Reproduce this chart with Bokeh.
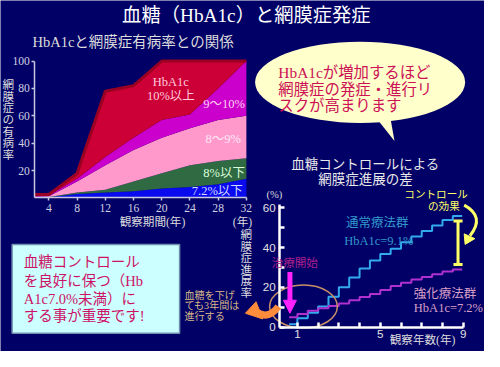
from bokeh.plotting import figure
from bokeh.models import Range1d, LinearAxis, FixedTicker, Label, Arrow, NormalHead, ColumnDataSource
from bokeh.embed import file_html
from bokeh.resources import INLINE

# ---------------- data: left chart (cumulative prevalence, %) ----------------
obs_years = [2, 4, 8, 12, 16, 20, 24, 28, 32]
cum_72 = [0.0, 0.5, 3, 4, 5, 7, 8, 10, 14]          # 7.2%以下
cum_8 = [0.0, 0.8, 4, 6, 12, 18, 24, 27, 29]        # 8%以下
cum_89 = [1.0, 1.3, 12, 24, 35, 44, 51, 57, 60]     # 8～9%
cum_910 = [2.0, 2.0, 14, 30, 44, 57, 61, 80, 100]   # 9～10%
cum_10 = [2.5, 2.5, 18, 78, 82, 100, 100, 100, 100] # 10%以上
left_xticks = [4, 8, 12, 16, 20, 24, 28, 32]
left_yticks = [20, 40, 60, 80, 100]

# ---------------- data: right chart (progression, %) ----------------
step_years = [0.6, 1.0, 1.5, 2.0, 2.5, 3.0, 3.5, 4.0, 4.5, 5.0, 5.5, 6.0, 6.5, 7.0, 7.5, 8.0, 8.5, 8.95]
conventional = [1.5, 4.5, 7.2, 10.4, 15.2, 20.0, 25.0, 29.5, 33.5, 36.7, 39.4, 42.6, 45.5, 48.3, 51.1, 53.8, 55.9, 55.9]
intensive = [5.0, 6.6, 8.2, 9.5, 10.6, 11.9, 13.5, 15.1, 16.7, 18.6, 20.7, 22.3, 23.9, 25.2, 26.6, 27.9, 29.0, 29.0]
right_xticks = [1, 5, 9]
right_xminor = [2, 3, 4, 6, 7, 8]
right_yticks = [0, 20, 40, 60]
right_yminor = [10, 30, 50]

# ---------------- figure ----------------
BG = "#000066"
W, H = 484, 351
SC = 0.965
JP = "Liberation Serif, Noto Sans CJK JP"
SERIF = "Liberation Serif"
SANS = "Liberation Sans"


def fs(n):
    return f"{n * SC:.1f}px"


p = figure(width=W, height=H, x_range=Range1d(0, 500), y_range=Range1d(367, 0),
           x_axis_type=None, y_axis_type=None, output_backend="svg", toolbar_location=None,
           min_border=0, background_fill_color=BG, border_fill_color=BG, outline_line_color=None)


def span_range(v0, px0, v1, px1, px_lo, px_hi):
    k = (px1 - px0) / (v1 - v0)
    return Range1d(v0 + (px_lo - px0) / k, v0 + (px_hi - px0) / k)


p.extra_x_ranges = {"lx": span_range(4, 50, 32, 254, 0, 500),
                    "rx": span_range(1, 306.7, 9, 478, 0, 500)}
p.extra_y_ranges = {"ly": span_range(0, 206.5, 100, 63.3, 367, 0),
                    "ry": span_range(0, 341.5, 60, 216.7, 367, 0)}
L = dict(x_range_name="lx", y_range_name="ly")
R = dict(x_range_name="rx", y_range_name="ry")

# ---- decorative shapes (design coordinates) ----
p.ellipse(x=[371.5], y=[85.5], width=[217], height=[85], fill_color="#ffffcc", line_color=None)
p.patch([389, 407, 403], [124, 147, 124], fill_color="#ffffcc", line_color=None)
p.quad(left=[12], right=[185], top=[255], bottom=[348], fill_color="#ccffff",
       line_color="#7090b0", line_width=1.5)

# ---- left chart stacked areas ----
src = ColumnDataSource(dict(x=obs_years, zero=[0] * len(obs_years), c72=cum_72, c8=cum_8,
                            c89=cum_89, c910=cum_910, c10=cum_10))
for lo, hi, col in [("zero", "c72", "#0a0aee"), ("c72", "c8", "#2f6a42"), ("c8", "c89", "#ff99cc"),
                    ("c89", "c910", "#cc00cc"), ("c910", "c10", "#cc0036")]:
    p.varea(x="x", y1=lo, y2=hi, source=src, fill_color=col, **L)
p.line("x", "c10", source=src, line_color="#990022", line_width=3, **L)


def style_axis(ax, color, width, tin, tout, lab_color, font, size, standoff):
    ax.axis_line_color = color
    ax.axis_line_width = width
    ax.major_tick_line_color = color
    ax.major_tick_line_width = width
    ax.major_tick_in = tin
    ax.major_tick_out = tout
    ax.minor_tick_line_color = color
    ax.minor_tick_line_width = width
    ax.minor_tick_in = tin
    ax.minor_tick_out = tout
    ax.major_label_text_color = lab_color
    ax.major_label_text_font = font
    ax.major_label_text_font_size = fs(size)
    ax.major_label_standoff = standoff


ax = LinearAxis(fixed_location=2, bounds=(0, 100), ticker=FixedTicker(ticks=left_yticks), **L)
style_axis(ax, "#c8c8e0", 1.5, 0, 3, "#d0d0e0", SERIF, 12, 2)
p.add_layout(ax, "left")
ax = LinearAxis(fixed_location=0, bounds=(2, 32), ticker=FixedTicker(ticks=left_xticks), **L)
style_axis(ax, "#c8c8e0", 1.5, 0, 3, "#d0d0e0", SERIF, 12, 3)
p.add_layout(ax, "below")

# ---- right chart ----
ssrc = ColumnDataSource(dict(x=step_years, conv=conventional, inten=intensive))
p.step("x", "conv", source=ssrc, mode="after", line_color="#33aaee", line_width=2, **R)
p.step("x", "inten", source=ssrc, mode="after", line_color="#b030d0", line_width=2, **R)

gx = step_years[-2] + 0.25
g_lo = intensive[-1] + 2.5
g_hi = conventional[-1] - 2.5
p.segment(x0=[gx, gx - 0.22, gx - 0.22], y0=[g_lo, g_lo, g_hi],
          x1=[gx, gx + 0.22, gx + 0.22], y1=[g_hi, g_lo, g_hi],
          line_color="#ffff66", line_width=3, **R)

ax = LinearAxis(fixed_location=0.15, bounds=(0, 61.5),
                ticker=FixedTicker(ticks=right_yticks, minor_ticks=right_yminor), **R)
style_axis(ax, "#ffffff", 2.5, 5, 0, "#e0e0e0", SANS, 12, 4)
p.add_layout(ax, "left")
ax = LinearAxis(fixed_location=0, bounds=(0.15, 9),
                ticker=FixedTicker(ticks=right_xticks, minor_ticks=right_xminor), **R)
style_axis(ax, "#ffffff", 2.5, 5, 0, "#e0e0e0", SANS, 12, 3)
p.add_layout(ax, "below")

# ellipse around the first years
p.ellipse(x=[313], y=[320], width=[70], height=[45], fill_color=None,
          line_color="#c89068", line_width=1.5)

# magenta "treatment start" arrow
p.add_layout(Arrow(x_start=299, y_start=284, x_end=299, y_end=327, line_color="#ff22ff", line_width=5,
                   end=NormalHead(size=13, fill_color="#ff22ff", line_color="#ff22ff")))

# yellow curved arrow
p.quadratic(x0=[479], y0=[214], x1=[485], y1=[246], cx=[501], cy=[226], line_color="#ffff66", line_width=3)
p.patch([480, 479, 490], [255, 244, 249], fill_color="#ffff66", line_color="#ffff66")

# ---- texts ----
def lab(x, y, text, size, color, align="left", font=JP, baseline="middle"):
    p.add_layout(Label(x=x, y=y, text=text, text_font_size=fs(size), text_color=color,
                       text_align=align, text_baseline=baseline, text_font=font))


lab(254, 16, "血糖（HbA1c）と網膜症発症", 20, "#ffffff", "center")
lab(33, 43, "HbA1cと網膜症有病率との関係", 15, "#dcdcdc")

for i, ch in enumerate("網膜症の有病率"):
    lab(8, 89 + i * 12.2, ch, 12, "#dddddd", "center")
lab(157, 232, "観察期間(年)", 12, "#dddddd", "center")
lab(250, 232, "(年)", 12, "#dddddd", "center")

lab(176, 85, "HbA1c", 13, "#ffccdd", "center")
lab(176, 100, "10%以上", 13, "#ffccdd", "center")
lab(231, 108, "9～10%", 13, "#ffd0f0", "center")
lab(230, 145, "8～9%", 13, "#ffe8f4", "center")
lab(231, 180, "8%以下", 13, "#ddffdd", "center")
lab(224, 199, "7.2%以下", 13, "#d0dcff", "center")

for yy, t in zip([75, 93, 110], ["HbA1cが増加するほど", "網膜症の発症・進行リ", "スクが高まります"]):
    lab(287, yy, t, 16, "#cc1155")

lab(377, 171, "血糖コントロールによる", 14, "#e8e8e8", "center")
lab(377, 187, "網膜症進展の差", 14, "#e8e8e8", "center")
lab(283, 203, "(%)", 11, "#dddddd", "center")
for i, ch in enumerate("網膜症進展率"):
    lab(254, 246 + i * 12, ch, 12, "#dddddd", "center")
lab(436, 355, "観察年数(年)", 12, "#dddddd", "center")

lab(450, 203, "コントロール", 11, "#ffff66", "center")
lab(458, 215, "の効果", 11, "#ffff66", "center")
lab(357, 233, "通常療法群", 13, "#3399cc")
lab(355, 251, "HbA1c=9.1%", 13, "#3399cc")
lab(427, 307, "強化療法群", 13, "#d8a0c8")
lab(427, 321, "HbA1c=7.2%", 13, "#d8a0c8")
lab(280, 275, "治療開始", 12, "#a8208c")

for yy, t in zip([273, 293, 312, 330], ["血糖コントロール", "を良好に保つ（Hb", "A1c7.0%未満）に", "する事が重要です!"]):
    lab(24, yy, t, 15, "#cc1166")

for yy, t in zip([308, 319, 330], ["血糖を下げ", "ても3年間は", "進行する"]):
    lab(190, yy, t, 10.5, "#d8b888")

# orange swoosh arrow (over the small text)
p.quadratic(x0=[265], y0=[326], x1=[287], y1=[320], cx=[277], cy=[334], line_color="#ff8c3a",
            line_width=7, level="overlay")
p.patch([253, 264, 271], [327, 315, 333], fill_color="#ff8c3a", line_color="#ff8c3a", level="overlay")

open("out.html", "w").write(file_html(p, INLINE))
